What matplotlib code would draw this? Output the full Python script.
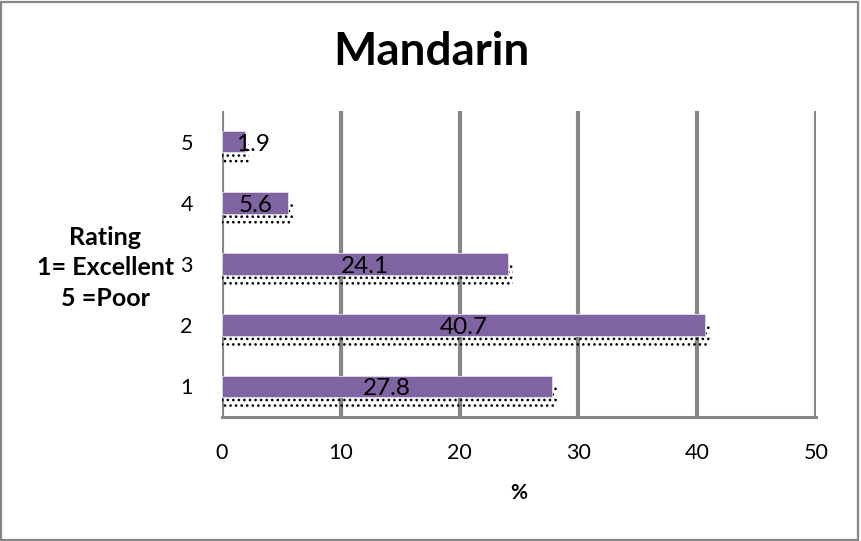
import matplotlib
matplotlib.use('Agg')
import matplotlib.pyplot as plt
from matplotlib.patches import Rectangle

# 数据
ratings = [1, 2, 3, 4, 5]
percent = [27.8, 40.7, 24.1, 5.6, 1.9]
x_ticks = [0, 10, 20, 30, 40, 50]

plt.rcParams['font.family'] = ['Lato', 'DejaVu Sans']
plt.rcParams['hatch.linewidth'] = 1.1

fig = plt.figure(figsize=(8.62, 5.41), dpi=100)
ax = fig.add_axes([0.2575, 0.2292, 0.6891, 0.5656])

bar_h = 0.35
# 阴影(点状)
ax.barh([r - 0.18 for r in ratings], [v + 0.4 for v in percent], height=bar_h,
        color='none', edgecolor='black', hatch='...', linewidth=0, zorder=2)
ax.barh(ratings, percent, height=bar_h, color='#8064A2', edgecolor='#e4dcef',
        linewidth=0.6, zorder=3)

for r, v in zip(ratings, percent):
    ax.text(max(v / 2, 2.6), r - 0.04, '%.1f' % v, ha='center', va='center',
            fontsize=17.5, color='black', zorder=4)

ax.set_xlim(0, 50)
ax.set_ylim(0.5, 5.5)
ax.set_xticks(x_ticks)
ax.set_yticks(ratings)
ax.tick_params(length=0, labelsize=15.5)
ax.tick_params(axis='x', pad=19)
ax.tick_params(axis='y', pad=21)

ax.grid(axis='x', color='#878787', linewidth=3, zorder=0)
ax.set_axisbelow(True)
for s in ['top', 'right', 'left']:
    ax.spines[s].set_visible(False)
ax.spines['bottom'].set_color('#878787')
ax.spines['bottom'].set_linewidth(2.2)

ax.set_xlabel('%', fontsize=15, fontweight='bold', labelpad=14)

fig.text(0.5, 0.903, 'Mandarin', ha='center', va='center', fontsize=33, fontweight='bold')
fig.text(0.122, 0.505, 'Rating\n1= Excellent\n5 =Poor', ha='center', va='center',
         fontsize=18, fontweight='bold', linespacing=1.4)

fig.patches.append(Rectangle((0.001, 0.002), 0.994, 0.994, transform=fig.transFigure,
                             fill=False, edgecolor='#878787', linewidth=1.6))

fig.savefig('out.png', dpi=100)
